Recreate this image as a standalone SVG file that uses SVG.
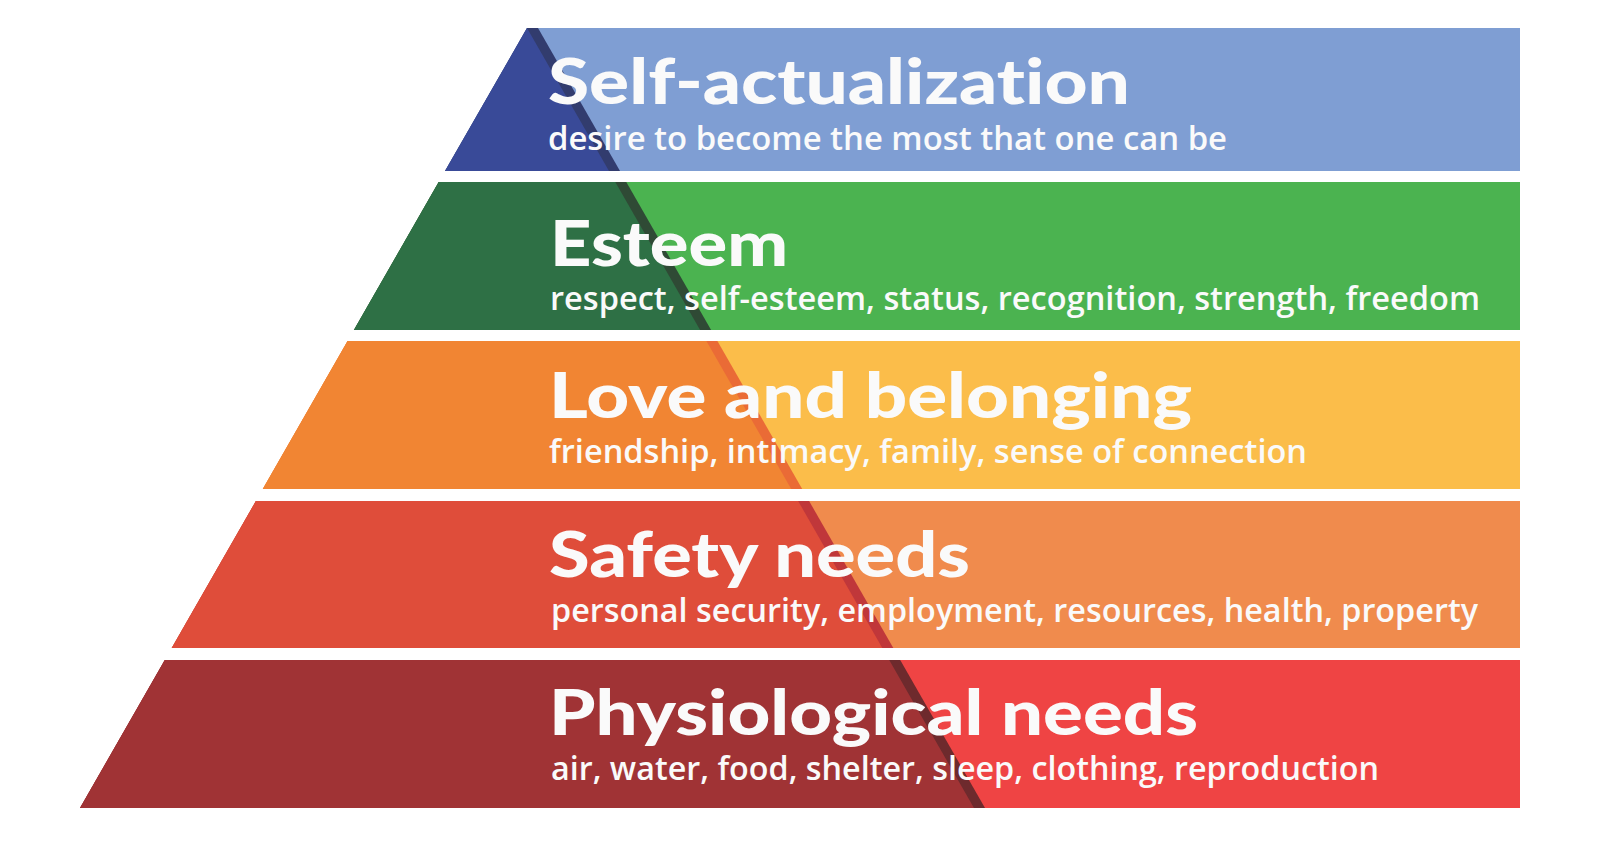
<svg xmlns="http://www.w3.org/2000/svg" width="1600" height="842" viewBox="0 0 1600 842">
<style>
.t{font-family:Lato,"Liberation Sans",sans-serif;font-weight:900;font-size:63px;fill:#FAFAFA;font-variant-ligatures:none;font-feature-settings:"liga" 0}
.s{font-family:"Open Sans","Liberation Sans",sans-serif;font-weight:600;font-size:33px;fill:#FAFAFA}
</style>
<rect width="1600" height="842" fill="#FFFFFF"/>
<g id="self-actualization">
<polygon points="527,28 1520,28 1520,171 445,171" fill="#7F9ED3"/>
<polygon points="527,28 538,28 620,171 445,171" fill="#323C6E"/>
<polygon points="527,28 527,28 609,171 445,171" fill="#394A98"/>
<text class="t" x="548" y="104" textLength="582" lengthAdjust="spacingAndGlyphs">Self-actualization</text>
<text class="s" x="548" y="150" textLength="679" lengthAdjust="spacingAndGlyphs">desire to become the most that one can be</text>
</g>
<g id="esteem">
<polygon points="438.7,182 1520,182 1520,330 353.9,330" fill="#4BB350"/>
<polygon points="438.7,182 626.3,182 711.1,330 353.9,330" fill="#2F4A35"/>
<polygon points="438.7,182 615.3,182 700.1,330 353.9,330" fill="#2E7045"/>
<text class="t" x="550" y="266" textLength="238" lengthAdjust="spacingAndGlyphs">Esteem</text>
<text class="s" x="550" y="310" textLength="930" lengthAdjust="spacingAndGlyphs">respect, self-esteem, status, recognition, strength, freedom</text>
</g>
<g id="love-and-belonging">
<polygon points="347.6,341 1520,341 1520,489 262.8,489" fill="#FBBD4A"/>
<polygon points="347.6,341 717.4,341 802.2,489 262.8,489" fill="#EA6B36"/>
<polygon points="347.6,341 706.4,341 791.2,489 262.8,489" fill="#F18533"/>
<text class="t" x="549" y="418" textLength="643" lengthAdjust="spacingAndGlyphs">Love and belonging</text>
<text class="s" x="549" y="463" textLength="758" lengthAdjust="spacingAndGlyphs">friendship, intimacy, family, sense of connection</text>
</g>
<g id="safety-needs">
<polygon points="255.9,501 1520,501 1520,648 171.7,648" fill="#F08B4D"/>
<polygon points="255.9,501 809.1,501 893.3,648 171.7,648" fill="#C0373A"/>
<polygon points="255.9,501 798.1,501 882.3,648 171.7,648" fill="#DF4D3A"/>
<text class="t" x="549" y="577" textLength="421" lengthAdjust="spacingAndGlyphs">Safety needs</text>
<text class="s" x="551" y="622" textLength="927" lengthAdjust="spacingAndGlyphs">personal security, employment, resources, health, property</text>
</g>
<g id="physiological-needs">
<polygon points="164.8,660 1520,660 1520,808 80,808" fill="#EF4444"/>
<polygon points="164.8,660 900.2,660 985,808 80,808" fill="#6E2A2D"/>
<polygon points="164.8,660 889.2,660 974,808 80,808" fill="#A03335"/>
<text class="t" x="549" y="735" textLength="649" lengthAdjust="spacingAndGlyphs">Physiological needs</text>
<text class="s" x="551" y="780" textLength="828" lengthAdjust="spacingAndGlyphs">air, water, food, shelter, sleep, clothing, reproduction</text>
</g>
</svg>
